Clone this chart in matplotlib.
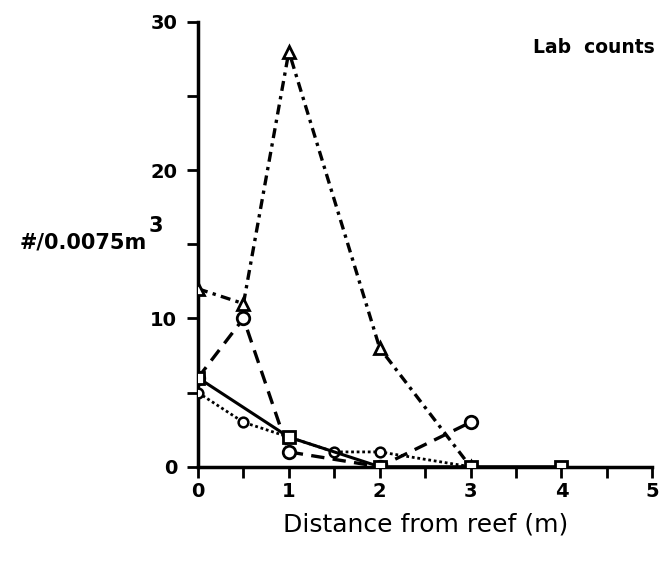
import matplotlib.pyplot as plt

# distances from reef (m) and counts per 0.0075 m^3
tri_x = [0, 0.5, 1, 2, 3]
tri_y = [12, 11, 28, 8, 0]

circ_x = [0, 0.5, 1, 2, 3]
circ_y = [6, 10, 1, 0, 3]

sq_x = [0, 1, 2, 3, 4]
sq_y = [6, 2, 0, 0, 0]

dot_x = [0, 0.5, 1, 1.5, 2, 3]
dot_y = [5, 3, 2, 1, 1, 0]

x_ticks = [0, 0.5, 1, 1.5, 2, 2.5, 3, 3.5, 4, 4.5, 5]
x_labels = ["0", "", "1", "", "2", "", "3", "", "4", "", "5"]
y_ticks = [0, 5, 10, 15, 20, 25, 30]
y_labels = ["0", "", "10", "", "20", "", "30"]

plt.rcParams["font.family"] = ["DejaVu Sans"]

fig = plt.figure(figsize=(6.69, 5.61), dpi=100)
ax = fig.add_axes([0.296, 0.168, 0.679, 0.793])

ax.plot(tri_x, tri_y, color="black", lw=2.4, linestyle=(0, (3, 1.6, 1, 1.6)),
        marker="^", markersize=9, markerfacecolor="white", markeredgewidth=2, zorder=3)
ax.plot(circ_x, circ_y, color="black", lw=2.4, linestyle=(0, (4, 2.5)),
        marker="o", markersize=9, markerfacecolor="white", markeredgewidth=2, zorder=3)
ax.plot(sq_x, sq_y, color="black", lw=2.2, linestyle="-",
        marker="s", markersize=9, markerfacecolor="white", markeredgewidth=2, zorder=4)
ax.plot(dot_x, dot_y, color="black", lw=2.0, linestyle=(0, (1, 1)),
        marker="o", markersize=7, markerfacecolor="white", markeredgewidth=1.8, zorder=3)

ax.set_xlim(0, 5)
ax.set_ylim(0, 30)
ax.set_xticks(x_ticks)
ax.set_xticklabels(x_labels)
ax.set_yticks(y_ticks)
ax.set_yticklabels(y_labels)

for side in ["top", "right"]:
    ax.spines[side].set_visible(False)
for side in ["left", "bottom"]:
    ax.spines[side].set_linewidth(2.5)

ax.tick_params(direction="out", length=8, width=2, labelsize=14)
ax.tick_params(axis="x", pad=3)
ax.tick_params(axis="y", pad=7)
for lab in ax.get_xticklabels() + ax.get_yticklabels():
    lab.set_fontweight("bold")

ax.set_xlabel("Distance from reef (m)", fontsize=18, labelpad=8)
fig.text(0.03, 0.567, "#/0.0075m", fontsize=15, fontweight="bold", va="center")
fig.text(0.222, 0.597, "3", fontsize=15, fontweight="bold", va="center")
fig.text(0.979, 0.916, "Lab  counts", fontsize=13.5, fontweight="bold",
         ha="right", va="center")

fig.savefig("out.png", dpi=100)
